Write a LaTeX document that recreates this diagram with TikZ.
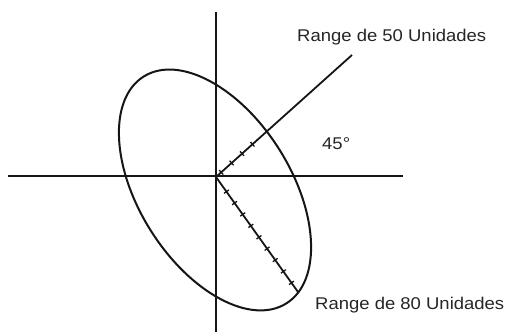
\documentclass[tikz,border=0pt]{standalone}
\usepackage{fontspec}
\setmainfont{Liberation Sans}
\usepackage{graphicx}
\usetikzlibrary{decorations.markings}
\definecolor{ink}{HTML}{151515}
\definecolor{txt}{HTML}{252525}
\tikzset{
  axisline/.style={draw=ink, line width=2pt},
  oval/.style={draw=ink, line width=2pt},
  rangeline/.style={draw=ink, line width=1.8pt},
  lbl/.style={text=txt, inner sep=0pt, anchor=base west, font=\fontsize{17}{20}\selectfont},
  tk/.style={decoration={markings,
     mark=at position #1 with {\draw[ink, line width=1.3pt] (0,-3pt) -- (0,3pt);}}},
}
\begin{document}
\begin{tikzpicture}[x=1pt,y=-1pt]
\useasboundingbox (0,0) rectangle (505,336);
% coordinates
\coordinate (O) at (216,177);
\coordinate (vtop) at (216,12);
\coordinate (vbot) at (216,332);
\coordinate (hleft) at (8,176.5);
\coordinate (hright) at (403,176.5);
\coordinate (C) at (215,190);
\coordinate (E50) at (352,55);
\coordinate (E80) at (298,292);
% axes
\draw[axisline] (vtop) -- (vbot);
\draw[axisline] (hleft) -- (hright);
% ellipse
\draw[oval, rotate around={-57.8:(C)}] (C) ellipse [x radius=134, y radius=76];
% range lines with ticks
\draw[rangeline, postaction={decorate},
  tk=7pt, tk=21pt, tk=35pt, tk=49pt] (O) -- (E50);
\draw[rangeline, postaction={decorate},
  tk=18pt, tk=32pt, tk=46pt, tk=60pt, tk=74pt, tk=88pt, tk=102pt, tk=116pt, tk=130pt] (O) -- (E80);
% labels
\node[lbl] (l50) at (297,42) {\scalebox{1.087}[1]{Range de 50 Unidades}};
\node[lbl] (l80) at (315,309) {\scalebox{1.087}[1]{Range de 80 Unidades}};
\node[lbl] (ang) at (322,150) {\scalebox{1.087}[1]{45°}};
\end{tikzpicture}
\end{document}
